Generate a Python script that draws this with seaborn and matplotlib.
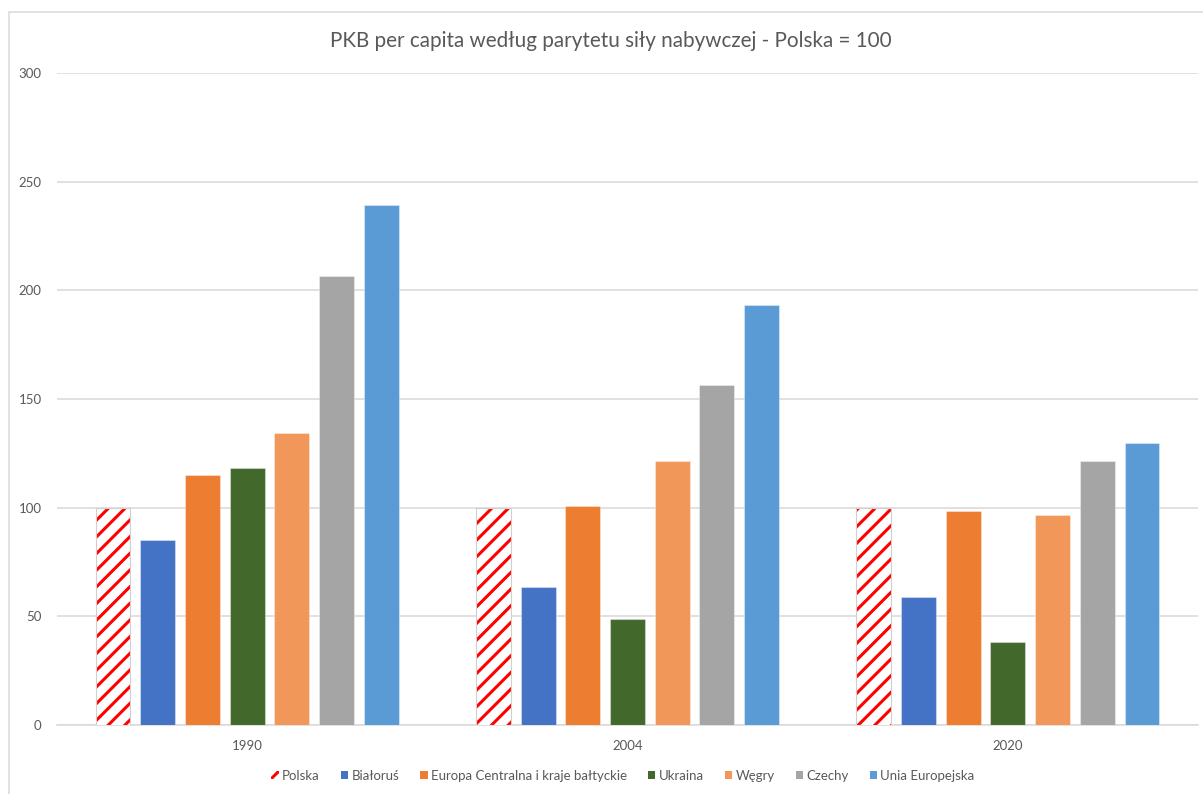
import matplotlib
matplotlib.use("Agg")
import matplotlib.pyplot as plt
from matplotlib.patches import Patch, Rectangle
import seaborn as sns
import pandas as pd

# --- data -----------------------------------------------------------------
lata = ["1990", "2004", "2020"]
kraje = ["Polska", "Białoruś", "Europa Centralna i kraje bałtyckie", "Ukraina",
         "Węgry", "Czechy", "Unia Europejska"]
polska = [100, 100, 100]
bialorus = [85, 63.5, 59]
europa_centralna = [115, 100.6, 98.5]
ukraina = [118.4, 48.6, 38]
wegry = [134.5, 121.5, 96.5]
czechy = [206.7, 156.4, 121.5]
unia = [239.4, 193.3, 129.6]
yticks = [0, 50, 100, 150, 200, 250, 300]
tytul = "PKB per capita według parytetu siły nabywczej - Polska = 100"

kolory = ["#FF0000", "#4472C4", "#ED7D31", "#43682B", "#F1975A", "#A5A5A5", "#5B9BD5"]

serie = [polska, bialorus, europa_centralna, ukraina, wegry, czechy, unia]
df = pd.DataFrame(
    [(rok, kraj, vals[i]) for kraj, vals in zip(kraje, serie) for i, rok in enumerate(lata)],
    columns=["rok", "kraj", "wartosc"],
)

# --- style ----------------------------------------------------------------
sns.set_theme(style="white")
plt.rcParams["font.family"] = ["Lato", "DejaVu Sans"]
plt.rcParams["hatch.linewidth"] = 2.2
szary_tekst = "#595959"
siatka = "#D9D9D9"

fig = plt.figure(figsize=(12.03, 7.94), dpi=100)
ax = fig.add_axes([57 / 1203, 1 - 725 / 794, (1198 - 57) / 1203, (725 - 73) / 794])

sns.barplot(data=df, x="rok", y="wartosc", hue="kraj", order=lata, hue_order=kraje,
            palette=dict(zip(kraje, kolory)), saturation=1, width=0.823, gap=0.22,
            legend=False, ax=ax, zorder=3)

# Polska: red diagonal stripes on white with a thin grey outline
for bar in ax.containers[0]:
    bar.set_facecolor("white")
    bar.set_edgecolor("#FF0000")
    bar.set_linewidth(0)
    bar.set_hatch("//")
    ax.add_patch(Rectangle((bar.get_x(), 0), bar.get_width(), bar.get_height(),
                           fill=False, edgecolor="#D0D0D0", linewidth=0.8, zorder=4))

# light edges on the solid bars
for cont in ax.containers[1:]:
    for bar in cont:
        bar.set_edgecolor((1, 1, 1, 0.35))
        bar.set_linewidth(0.8)

ax.set_ylim(0, 300)
ax.set_xlim(-0.5, 2.5)
ax.set_yticks(yticks)
ax.set_yticklabels([str(t) for t in yticks])
ax.yaxis.grid(True, color=siatka, linewidth=1.1, zorder=0)
ax.set_axisbelow(True)
for s in ["left", "right", "top"]:
    ax.spines[s].set_visible(False)
ax.spines["bottom"].set_color(siatka)
ax.spines["bottom"].set_linewidth(1.1)
ax.tick_params(axis="both", length=0, colors=szary_tekst, labelsize=9.5)
ax.tick_params(axis="y", pad=11)
ax.tick_params(axis="x", pad=11)
ax.set_xlabel("")
ax.set_ylabel("")

fig.text(611 / 1203, 1 - 41 / 794, tytul, ha="center", va="center",
         fontsize=14.9, color=szary_tekst)

# legend
uchwyty = [Patch(facecolor="white", edgecolor="#FF0000", hatch="//", linewidth=0)]
uchwyty += [Patch(facecolor=c, edgecolor="none") for c in kolory[1:]]
fig.legend(uchwyty, kraje, loc="center", bbox_to_anchor=(623 / 1203, 1 - 776 / 794),
           ncol=7, frameon=False, fontsize=9.5, labelcolor=szary_tekst,
           handlelength=0.55, handleheight=0.55, handletextpad=0.25,
           columnspacing=1.6, borderpad=0)

# chart area frame
fig.patches.append(Rectangle((8.5 / 1203, -0.1), 1.2, 1.1 - 12.5 / 794,
                             transform=fig.transFigure, fill=False,
                             edgecolor=siatka, linewidth=1.1))

fig.savefig("out.png", dpi=100)
